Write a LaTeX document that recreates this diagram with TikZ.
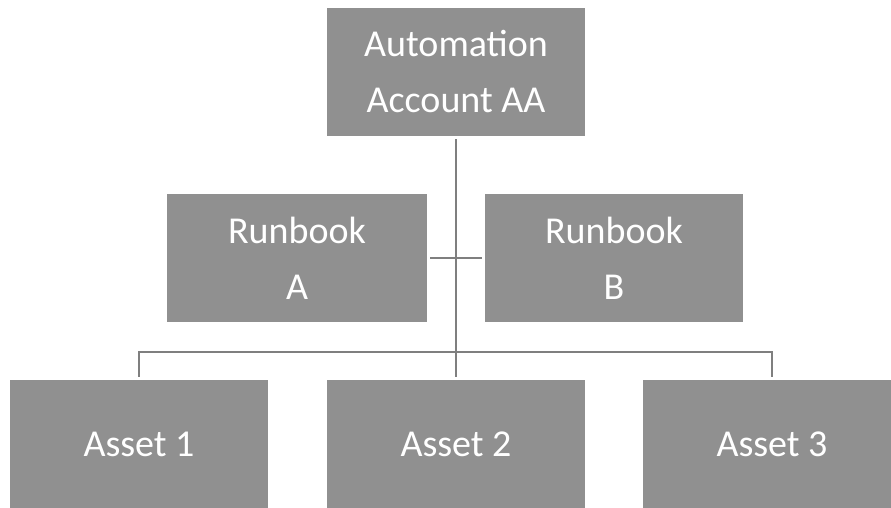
\documentclass[tikz,border=0pt]{standalone}
\usepackage{fontspec}
\setmainfont{Carlito}
\definecolor{boxgray}{HTML}{909090}
\definecolor{linegray}{HTML}{7F7F7F}
\begin{document}
\begin{tikzpicture}[x=1pt,y=-1pt,
  block/.style={fill=boxgray, draw=none, minimum width=258pt, minimum height=128pt,
    inner sep=0pt, align=center, text=white,
    font=\fontsize{38}{56}\selectfont},
  conn/.style={draw=linegray, line width=2.2pt, shorten >=3pt, shorten <=3pt}]
  \useasboundingbox (0,0) rectangle (891,508);
  \clip (0,0) rectangle (891,508);
  % account and runbooks
  \node[block] (aa) at (456,72) {Automation\\Account AA};
  \node[block, minimum width=260pt] (ra) at (297,258) {Runbook\\A};
  \node[block] (rb) at (614,258) {Runbook\\B};
  % assets
  \node[block] (a1) at (139,444) {Asset 1};
  \node[block] (a2) at (456,444) {Asset 2};
  \node[block] (a3) at (772,444) {Asset 3};
  \coordinate (bus) at (456,352);
  % connectors
  \draw[conn] (aa.south) -- (a2.north);
  \draw[conn] (ra.east) -- (rb.west);
  \draw[conn, line width=2pt] (a1.north) |- (bus) -| (a3.north);
\end{tikzpicture}
\end{document}
